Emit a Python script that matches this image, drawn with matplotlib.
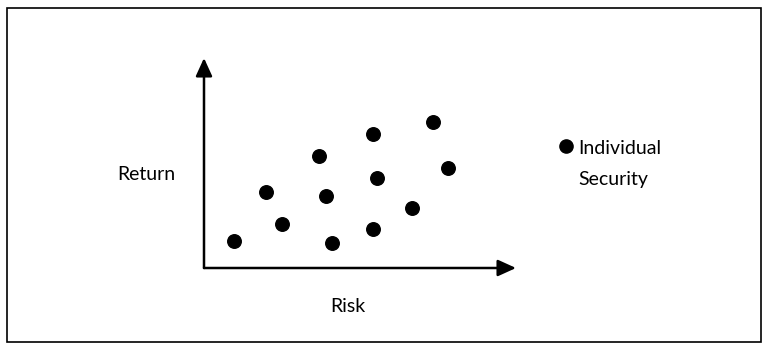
import matplotlib
matplotlib.use("Agg")
import matplotlib.pyplot as plt
from matplotlib.patches import Rectangle

plt.rcParams['font.family'] = ['Lato', 'DejaVu Sans']

# risk / return of each security (arbitrary units, origin at the axes corner)
risk = [3.0, 6.2, 7.8, 11.5, 12.2, 12.8, 16.9, 17.3, 16.9, 20.8, 22.9, 24.4]
ret = [2.7, 7.6, 4.4, 11.2, 7.2, 2.5, 13.4, 9.0, 3.9, 6.0, 14.6, 10.0]

x_label = "Risk"
y_label = "Return"
legend_lines = ["Individual", "Security"]

W, H = 767, 349
fig = plt.figure(figsize=(W / 100, H / 100), dpi=100)

# outer frame
fig.patches.append(Rectangle((6.5 / W, (H - 341.5) / H), 754 / W, 334 / H,
                             transform=fig.transFigure, fill=False,
                             edgecolor="black", linewidth=1.2))

ax = fig.add_axes([204 / W, (H - 268) / H, 312 / W, 210 / H])
ax.set_xlim(0, 31.2)
ax.set_ylim(0, 21.0)
ax.axis("off")

# arrows for the axes
arrow = dict(arrowstyle="-|>,head_length=1.1,head_width=0.5", color="black",
             lw=1.8, shrinkA=0, shrinkB=0)
ax.annotate("", xy=(31.2, 0), xytext=(0, 0), arrowprops=arrow, annotation_clip=False)
ax.annotate("", xy=(0, 21.0), xytext=(0, 0), arrowprops=arrow, annotation_clip=False)

ax.scatter(risk, ret, s=95, color="black", clip_on=False)

fig.text(146 / W, 1 - 174 / H, y_label, ha="center", va="center", fontsize=14)
fig.text(348 / W, 1 - 307 / H, x_label, ha="center", va="center", fontsize=14)

# legend
fig.add_artist(plt.Line2D([566 / W], [1 - 146 / H], marker="o", markersize=9.5,
                          color="black", linestyle="none", transform=fig.transFigure))
fig.text(578 / W, 1 - 148 / H, legend_lines[0], ha="left", va="center", fontsize=14)
fig.text(578 / W, 1 - 179 / H, legend_lines[1], ha="left", va="center", fontsize=14)

fig.savefig("out.png", dpi=100)
